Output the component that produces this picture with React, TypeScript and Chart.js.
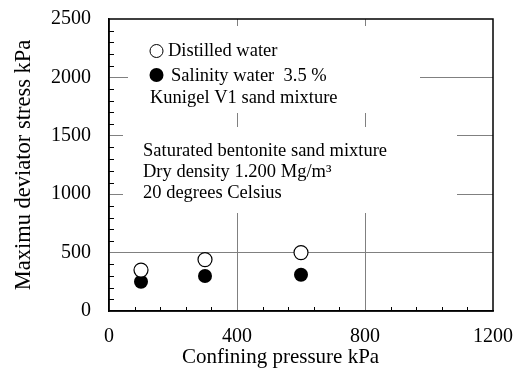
import React, { useEffect, useRef } from "react";
import { Chart, registerables } from "chart.js";

Chart.register(...registerables);

// Confining pressure (kPa) and maximum deviator stress (kPa)
const confiningPressure = [100, 300, 600];
const distilledWater = [350, 440, 500];
const salinityWater = [250, 300, 310];

const xTicks = [0, 400, 800, 1200];
const yTicks = [0, 500, 1000, 1500, 2000, 2500];

const legendLabels = ["Distilled water", "Salinity water  3.5 %", "Kunigel V1 sand mixture"];
const noteLines = ["Saturated bentonite sand mixture", "Dry density 1.200 Mg/m\u00b3", "20 degrees Celsius"];
const xTitle = "Confining pressure kPa";
const yTitle = "Maximu deviator stress kPa";

const SERIF = '"Liberation Serif", "Times New Roman", serif';

const framePlugin = {
  id: "frame",
  beforeDatasetsDraw(chart: any) {
    const { ctx, chartArea: a } = chart;
    ctx.save();
    ctx.fillStyle = "#ffffff";
    // text panels sit on top of the grid
    ctx.fillRect(a.left + 19, a.top + 7, 292, 87);
    ctx.fillRect(a.left + 14, a.top + 108, 334, 86);
    ctx.restore();
  },
  afterDraw(chart: any) {
    const { ctx, chartArea: a, scales } = chart;
    const x = scales.x;
    const y = scales.y;
    ctx.save();
    ctx.strokeStyle = "#000000";
    ctx.lineWidth = 1;
    ctx.beginPath();
    for (let v = 100; v < 2500; v += 100) {
      if (v % 500 === 0) continue;
      const py = Math.round(y.getPixelForValue(v)) + 0.5;
      ctx.moveTo(a.left, py);
      ctx.lineTo(a.left + 5, py);
    }
    for (let v = 80; v < 1200; v += 80) {
      if (v % 400 === 0) continue;
      const px = Math.round(x.getPixelForValue(v)) + 0.5;
      ctx.moveTo(px, a.bottom);
      ctx.lineTo(px, a.bottom - 4);
    }
    ctx.stroke();

    ctx.lineWidth = 1.5;
    ctx.strokeRect(a.left, a.top, a.right - a.left, a.bottom - a.top);

    // legend markers
    ctx.beginPath();
    ctx.arc(a.left + 47.5, a.top + 32, 6.5, 0, Math.PI * 2);
    ctx.fillStyle = "#ffffff";
    ctx.fill();
    ctx.lineWidth = 1;
    ctx.stroke();
    ctx.beginPath();
    ctx.arc(a.left + 47.5, a.top + 56, 7, 0, Math.PI * 2);
    ctx.fillStyle = "#000000";
    ctx.fill();

    ctx.fillStyle = "#000000";
    ctx.font = `18.5px ${SERIF}`;
    ctx.textAlign = "left";
    ctx.textBaseline = "alphabetic";
    ctx.fillText(legendLabels[0], a.left + 59, a.top + 37);
    ctx.fillText(legendLabels[1], a.left + 62, a.top + 62);
    ctx.fillText(legendLabels[2], a.left + 41, a.top + 83.5);
    noteLines.forEach((t, i) => ctx.fillText(t, a.left + 34, a.top + 137 + i * 21));

    // axis titles
    ctx.font = `21px ${SERIF}`;
    ctx.fillText(xTitle, 182, 363);
    ctx.translate(29.5, (a.top + a.bottom) / 2);
    ctx.rotate(-Math.PI / 2);
    ctx.textAlign = "center";
    ctx.font = `22.5px ${SERIF}`;
    ctx.fillText(yTitle, 0, 0);
    ctx.restore();
  },
};

const gridColor = (max: number) => (c: any) => {
  const v = c.tick ? c.tick.value : 0;
  return v === 0 || v === max ? "rgba(0,0,0,0)" : "#808080";
};

const plain = (v: any) => String(v);

const noOverflow = (s: any) => {
  s.paddingTop = 0;
  s.paddingBottom = 0;
  s.paddingLeft = 0;
  s.paddingRight = 0;
};

export default function App() {
  const ref = useRef<HTMLCanvasElement>(null);

  useEffect(() => {
    if (!ref.current) return;
    const chart = new Chart(ref.current, {
      type: "scatter",
      data: {
        datasets: [
          {
            label: legendLabels[0],
            data: confiningPressure.map((p, i) => ({ x: p, y: distilledWater[i] })),
            pointRadius: 7,
            pointBackgroundColor: "#ffffff",
            pointBorderColor: "#000000",
            pointBorderWidth: 1.2,
          },
          {
            label: legendLabels[1],
            data: confiningPressure.map((p, i) => ({ x: p, y: salinityWater[i] })),
            pointRadius: 7,
            pointBackgroundColor: "#000000",
            pointBorderColor: "#000000",
            pointBorderWidth: 0,
          },
        ],
      },
      options: {
        animation: false,
        responsive: true,
        maintainAspectRatio: false,
        layout: { padding: { top: 19, right: 23, left: 0, bottom: 0 } },
        plugins: { legend: { display: false }, tooltip: { enabled: false } },
        scales: {
          x: {
            type: "linear",
            min: 0,
            max: 1200,
            afterBuildTicks: (s: any) => {
              s.ticks = xTicks.map((v) => ({ value: v }));
            },
            afterFit: (s: any) => {
              s.height = 63;
              noOverflow(s);
            },
            grid: { color: gridColor(1200), lineWidth: 1, drawTicks: false },
            border: { display: true, color: "#000000", width: 1.5 },
            ticks: { color: "#000000", font: { family: SERIF, size: 20 }, padding: 14, maxRotation: 0, callback: plain },
          },
          y: {
            type: "linear",
            min: 0,
            max: 2500,
            afterBuildTicks: (s: any) => {
              s.ticks = yTicks.map((v) => ({ value: v }));
            },
            afterFit: (s: any) => {
              s.width = 109;
              noOverflow(s);
            },
            grid: { color: gridColor(2500), lineWidth: 1, drawTicks: false },
            border: { display: true, color: "#000000", width: 1.5 },
            ticks: { color: "#000000", font: { family: SERIF, size: 20 }, padding: 18, callback: plain },
          },
        },
      },
      plugins: [framePlugin],
    });
    return () => chart.destroy();
  }, []);

  return (
    <div style={{ position: "fixed", left: 0, top: 0, width: 516, height: 374, background: "#ffffff" }}>
      <canvas ref={ref} />
    </div>
  );
}
